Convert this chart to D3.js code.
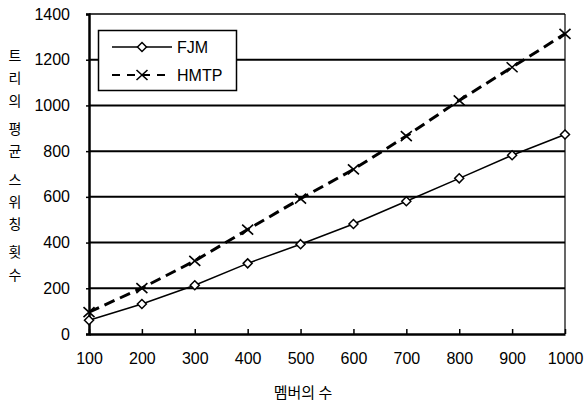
<!DOCTYPE html>
<html>
<head>
<meta charset="utf-8">
<script src="https://cdn.jsdelivr.net/npm/d3@7"></script>
<style>
  body { margin: 0; background: #fff; }
  text { font-family: "Liberation Sans", Arial, sans-serif; }
  .kr { font-family: "Noto Sans CJK KR", sans-serif; }
</style>
</head>
<body>
<div id="chart"></div>
<script>
(function () {
    // data
    const members = [100, 200, 300, 400, 500, 600, 700, 800, 900, 1000];
    const fjm = [60, 131, 213, 309, 393, 481, 581, 681, 782, 873];
    const hmtp = [96, 201, 320, 457, 592, 720, 866, 1022, 1167, 1313];
    const yTicks = [0, 200, 400, 600, 800, 1000, 1200, 1400];
    const yLabelChars = ["트", "리", "의", null, "평", "균", null, "스", "위", "칭", null, "횟", "수"];

    const width = 586, height = 403;
    const left = 89, right = 565, top = 14, bottom = 334;

    const svg = d3.select("#chart").append("svg")
        .attr("width", width).attr("height", height);

    const x = d3.scaleLinear().domain([100, 1000]).range([left, right]);
    const y = d3.scaleLinear().domain([0, 1400]).range([bottom, top]);

    // gridlines
    svg.append("g")
        .selectAll("line")
        .data(yTicks.filter(d => d > 0 && d < 1400))
        .join("line")
        .attr("x1", left).attr("x2", right)
        .attr("y1", d => y(d)).attr("y2", d => y(d))
        .attr("stroke", "#000").attr("stroke-width", 2);

    // frame
    svg.append("line").attr("x1", left).attr("x2", right).attr("y1", top).attr("y2", top)
        .attr("stroke", "#000").attr("stroke-width", 1.5);
    svg.append("line").attr("x1", right).attr("x2", right).attr("y1", top).attr("y2", bottom)
        .attr("stroke", "#000").attr("stroke-width", 1.2);

    // y axis
    const yAxis = svg.append("g")
        .attr("transform", "translate(" + left + ",0)")
        .call(d3.axisLeft(y).tickValues(yTicks).tickFormat(d3.format("d")).tickSize(3).tickPadding(16));
    yAxis.select(".domain").attr("stroke-width", 2.5);
    yAxis.selectAll(".tick line").attr("stroke-width", 1.5);
    yAxis.selectAll("text").attr("font-size", 16).attr("fill", "#000")
        .attr("font-family", "Liberation Sans, Arial, sans-serif");

    // x axis (ticks pointing inward)
    const xAxis = svg.append("g")
        .attr("transform", "translate(0," + bottom + ")")
        .call(d3.axisBottom(x).tickValues(members).tickFormat(d3.format("d"))
            .tickSizeInner(-5).tickSizeOuter(0).tickPadding(19));
    xAxis.select(".domain").attr("stroke-width", 2.5);
    xAxis.selectAll(".tick line").attr("stroke-width", 1.5);
    xAxis.selectAll("text").attr("font-size", 16).attr("fill", "#000")
        .attr("font-family", "Liberation Sans, Arial, sans-serif");

    // series
    const line = d3.line().x((d, i) => x(members[i])).y(d => y(d));

    svg.append("path").datum(fjm).attr("d", line)
        .attr("fill", "none").attr("stroke", "#000").attr("stroke-width", 1.5);
    svg.append("path").datum(hmtp).attr("d", line)
        .attr("fill", "none").attr("stroke", "#000").attr("stroke-width", 3)
        .attr("stroke-dasharray", "11,6");

    const diamond = "M0,-4.5L4.5,0L0,4.5L-4.5,0Z";
    const cross = "M-5.5,-5L5.5,5M5.5,-5L-5.5,5";

    svg.append("g").selectAll("path")
        .data(fjm).join("path")
        .attr("transform", (d, i) => "translate(" + x(members[i]) + "," + y(d) + ")")
        .attr("d", diamond).attr("fill", "#fff").attr("stroke", "#000").attr("stroke-width", 1.5);
    svg.append("g").selectAll("path")
        .data(hmtp).join("path")
        .attr("transform", (d, i) => "translate(" + x(members[i]) + "," + y(d) + ")")
        .attr("d", cross).attr("fill", "none").attr("stroke", "#000").attr("stroke-width", 1.6);

    // legend
    const lg = svg.append("g");
    lg.append("rect").attr("x", 98.5).attr("y", 30.5).attr("width", 138).attr("height", 60)
        .attr("fill", "#fff").attr("stroke", "#000").attr("stroke-width", 1.5);
    lg.append("line").attr("x1", 112).attr("x2", 172).attr("y1", 47).attr("y2", 47)
        .attr("stroke", "#000").attr("stroke-width", 1.5);
    lg.append("path").attr("transform", "translate(142,47)").attr("d", diamond)
        .attr("fill", "#fff").attr("stroke", "#000").attr("stroke-width", 1.5);
    lg.append("text").attr("x", 177).attr("y", 53).attr("font-size", 16).text("FJM");
    lg.append("line").attr("x1", 112).attr("x2", 172).attr("y1", 75).attr("y2", 75)
        .attr("stroke", "#000").attr("stroke-width", 2).attr("stroke-dasharray", "8,7");
    lg.append("path").attr("transform", "translate(142,75)").attr("d", cross)
        .attr("fill", "none").attr("stroke", "#000").attr("stroke-width", 1.6);
    lg.append("text").attr("x", 177).attr("y", 81).attr("font-size", 16).text("HMTP");

    // y title, stacked vertically
    let cy = 55;
    const yTitle = svg.append("g");
    yLabelChars.forEach(c => {
        if (c === null) { cy += 6; return; }
        yTitle.append("text").attr("class", "kr")
            .attr("x", 15).attr("y", cy).attr("text-anchor", "middle")
            .attr("dominant-baseline", "central").attr("font-size", 14).text(c);
        cy += 22.3;
    });

    // x title
    svg.append("text").attr("class", "kr")
        .attr("x", 303).attr("y", 398).attr("text-anchor", "middle")
        .attr("font-size", 15).text("멤버의 수");
})();
</script>
</body>
</html>
